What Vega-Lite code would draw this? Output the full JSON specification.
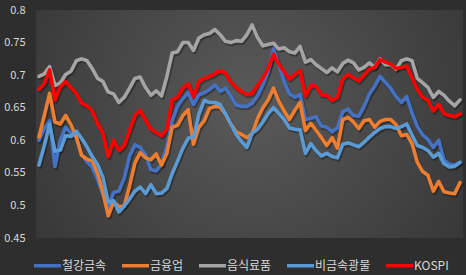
{
 "$schema": "https://vega.github.io/schema/vega-lite/v6.json",
 "width": 427, "height": 228,
 "autosize": "none",
 "padding": {"left": 36, "top": 10, "right": 3, "bottom": 37},
 "background": "#2e2e2e",
 "config": {
   "view": {"stroke": null, "fill": {"gradient": "radial", "x1": 0.5, "y1": 0.45, "r1": 0, "x2": 0.5, "y2": 0.45, "r2": 0.75, "stops": [{"offset": 0, "color": "#5a5a5a"}, {"offset": 1, "color": "#2e2e2e"}]}},
   "font": "Noto Sans CJK KR"
 },
 "datasets": {
  "d": [
{"s":"철강금속","i":0,"v":0.600},{"s":"철강금속","i":1,"v":0.618},{"s":"철강금속","i":2,"v":0.630},{"s":"철강금속","i":3,"v":0.560},{"s":"철강금속","i":4,"v":0.600},{"s":"철강금속","i":5,"v":0.620},{"s":"철강금속","i":6,"v":0.611},{"s":"철강금속","i":7,"v":0.605},{"s":"철강금속","i":8,"v":0.578},{"s":"철강금속","i":9,"v":0.567},
{"s":"철강금속","i":10,"v":0.558},{"s":"철강금속","i":11,"v":0.540},{"s":"철강금속","i":12,"v":0.517},{"s":"철강금속","i":13,"v":0.497},{"s":"철강금속","i":14,"v":0.520},{"s":"철강금속","i":15,"v":0.522},{"s":"철강금속","i":16,"v":0.542},{"s":"철강금속","i":17,"v":0.576},{"s":"철강금속","i":18,"v":0.593},{"s":"철강금속","i":19,"v":0.589},
{"s":"철강금속","i":20,"v":0.578},{"s":"철강금속","i":21,"v":0.555},{"s":"철강금속","i":22,"v":0.553},{"s":"철강금속","i":23,"v":0.563},{"s":"철강금속","i":24,"v":0.590},{"s":"철강금속","i":25,"v":0.630},{"s":"철강금속","i":26,"v":0.652},{"s":"철강금속","i":27,"v":0.664},{"s":"철강금속","i":28,"v":0.673},{"s":"철강금속","i":29,"v":0.655},
{"s":"철강금속","i":30,"v":0.670},{"s":"철강금속","i":31,"v":0.673},{"s":"철강금속","i":32,"v":0.678},{"s":"철강금속","i":33,"v":0.685},{"s":"철강금속","i":34,"v":0.675},{"s":"철강금속","i":35,"v":0.680},{"s":"철강금속","i":36,"v":0.668},{"s":"철강금속","i":37,"v":0.654},{"s":"철강금속","i":38,"v":0.652},{"s":"철강금속","i":39,"v":0.652},
{"s":"철강금속","i":40,"v":0.657},{"s":"철강금속","i":41,"v":0.668},{"s":"철강금속","i":42,"v":0.685},{"s":"철강금속","i":43,"v":0.705},{"s":"철강금속","i":44,"v":0.740},{"s":"철강금속","i":45,"v":0.716},{"s":"철강금속","i":46,"v":0.690},{"s":"철강금속","i":47,"v":0.671},{"s":"철강금속","i":48,"v":0.666},{"s":"철강금속","i":49,"v":0.670},
{"s":"철강금속","i":50,"v":0.632},{"s":"철강금속","i":51,"v":0.634},{"s":"철강금속","i":52,"v":0.636},{"s":"철강금속","i":53,"v":0.622},{"s":"철강금속","i":54,"v":0.620},{"s":"철강금속","i":55,"v":0.613},{"s":"철강금속","i":56,"v":0.619},{"s":"철강금속","i":57,"v":0.644},{"s":"철강금속","i":58,"v":0.648},{"s":"철강금속","i":59,"v":0.638},
{"s":"철강금속","i":60,"v":0.637},{"s":"철강금속","i":61,"v":0.652},{"s":"철강금속","i":62,"v":0.671},{"s":"철강금속","i":63,"v":0.683},{"s":"철강금속","i":64,"v":0.698},{"s":"철강금속","i":65,"v":0.689},{"s":"철강금속","i":66,"v":0.680},{"s":"철강금속","i":67,"v":0.667},{"s":"철강금속","i":68,"v":0.658},{"s":"철강금속","i":69,"v":0.667},
{"s":"철강금속","i":70,"v":0.642},{"s":"철강금속","i":71,"v":0.621},{"s":"철강금속","i":72,"v":0.608},{"s":"철강금속","i":73,"v":0.601},{"s":"철강금속","i":74,"v":0.589},{"s":"철강금속","i":75,"v":0.600},{"s":"철강금속","i":76,"v":0.570},{"s":"철강금속","i":77,"v":0.563},{"s":"철강금속","i":78,"v":0.562},{"s":"철강금속","i":79,"v":0.566},
{"s":"금융업","i":0,"v":0.605},{"s":"금융업","i":1,"v":0.638},{"s":"금융업","i":2,"v":0.672},{"s":"금융업","i":3,"v":0.628},{"s":"금융업","i":4,"v":0.625},{"s":"금융업","i":5,"v":0.638},{"s":"금융업","i":6,"v":0.624},{"s":"금융업","i":7,"v":0.605},{"s":"금융업","i":8,"v":0.577},{"s":"금융업","i":9,"v":0.571},
{"s":"금융업","i":10,"v":0.568},{"s":"금융업","i":11,"v":0.549},{"s":"금융업","i":12,"v":0.520},{"s":"금융업","i":13,"v":0.484},{"s":"금융업","i":14,"v":0.506},{"s":"금융업","i":15,"v":0.498},{"s":"금융업","i":16,"v":0.499},{"s":"금융업","i":17,"v":0.530},{"s":"금융업","i":18,"v":0.565},{"s":"금융업","i":19,"v":0.581},
{"s":"금융업","i":20,"v":0.573},{"s":"금융업","i":21,"v":0.570},{"s":"금융업","i":22,"v":0.579},{"s":"금융업","i":23,"v":0.562},{"s":"금융업","i":24,"v":0.580},{"s":"금융업","i":25,"v":0.620},{"s":"금융업","i":26,"v":0.623},{"s":"금융업","i":27,"v":0.638},{"s":"금융업","i":28,"v":0.647},{"s":"금융업","i":29,"v":0.594},
{"s":"금융업","i":30,"v":0.620},{"s":"금융업","i":31,"v":0.630},{"s":"금융업","i":32,"v":0.649},{"s":"금융업","i":33,"v":0.652},{"s":"금융업","i":34,"v":0.651},{"s":"금융업","i":35,"v":0.640},{"s":"금융업","i":36,"v":0.625},{"s":"금융업","i":37,"v":0.613},{"s":"금융업","i":38,"v":0.609},{"s":"금융업","i":39,"v":0.604},
{"s":"금융업","i":40,"v":0.610},{"s":"금융업","i":41,"v":0.633},{"s":"금융업","i":42,"v":0.650},{"s":"금융업","i":43,"v":0.662},{"s":"금융업","i":44,"v":0.680},{"s":"금융업","i":45,"v":0.660},{"s":"금융업","i":46,"v":0.645},{"s":"금융업","i":47,"v":0.632},{"s":"금융업","i":48,"v":0.646},{"s":"금융업","i":49,"v":0.658},
{"s":"금융업","i":50,"v":0.615},{"s":"금융업","i":51,"v":0.626},{"s":"금융업","i":52,"v":0.615},{"s":"금융업","i":53,"v":0.604},{"s":"금융업","i":54,"v":0.592},{"s":"금융업","i":55,"v":0.604},{"s":"금융업","i":56,"v":0.588},{"s":"금융업","i":57,"v":0.632},{"s":"금융업","i":58,"v":0.635},{"s":"금융업","i":59,"v":0.628},
{"s":"금융업","i":60,"v":0.618},{"s":"금융업","i":61,"v":0.630},{"s":"금융업","i":62,"v":0.632},{"s":"금융업","i":63,"v":0.620},{"s":"금융업","i":64,"v":0.629},{"s":"금융업","i":65,"v":0.632},{"s":"금융업","i":66,"v":0.632},{"s":"금융업","i":67,"v":0.624},{"s":"금융업","i":68,"v":0.607},{"s":"금융업","i":69,"v":0.609},
{"s":"금융업","i":70,"v":0.595},{"s":"금융업","i":71,"v":0.566},{"s":"금융업","i":72,"v":0.552},{"s":"금융업","i":73,"v":0.546},{"s":"금융업","i":74,"v":0.522},{"s":"금융업","i":75,"v":0.537},{"s":"금융업","i":76,"v":0.521},{"s":"금융업","i":77,"v":0.519},{"s":"금융업","i":78,"v":0.518},{"s":"금융업","i":79,"v":0.535},
{"s":"음식료품","i":0,"v":0.698},{"s":"음식료품","i":1,"v":0.702},{"s":"음식료품","i":2,"v":0.713},{"s":"음식료품","i":3,"v":0.684},{"s":"음식료품","i":4,"v":0.688},{"s":"음식료품","i":5,"v":0.701},{"s":"음식료품","i":6,"v":0.706},{"s":"음식료품","i":7,"v":0.722},{"s":"음식료품","i":8,"v":0.725},{"s":"음식료품","i":9,"v":0.722},
{"s":"음식료품","i":10,"v":0.710},{"s":"음식료품","i":11,"v":0.695},{"s":"음식료품","i":12,"v":0.690},{"s":"음식료품","i":13,"v":0.674},{"s":"음식료품","i":14,"v":0.671},{"s":"음식료품","i":15,"v":0.658},{"s":"음식료품","i":16,"v":0.666},{"s":"음식료품","i":17,"v":0.680},{"s":"음식료품","i":18,"v":0.695},{"s":"음식료품","i":19,"v":0.697},
{"s":"음식료품","i":20,"v":0.681},{"s":"음식료품","i":21,"v":0.669},{"s":"음식료품","i":22,"v":0.676},{"s":"음식료품","i":23,"v":0.668},{"s":"음식료품","i":24,"v":0.698},{"s":"음식료품","i":25,"v":0.734},{"s":"음식료품","i":26,"v":0.736},{"s":"음식료품","i":27,"v":0.750},{"s":"음식료품","i":28,"v":0.750},{"s":"음식료품","i":29,"v":0.738},
{"s":"음식료품","i":30,"v":0.757},{"s":"음식료품","i":31,"v":0.762},{"s":"음식료품","i":32,"v":0.764},{"s":"음식료품","i":33,"v":0.770},{"s":"음식료품","i":34,"v":0.762},{"s":"음식료품","i":35,"v":0.752},{"s":"음식료품","i":36,"v":0.750},{"s":"음식료품","i":37,"v":0.753},{"s":"음식료품","i":38,"v":0.752},{"s":"음식료품","i":39,"v":0.762},
{"s":"음식료품","i":40,"v":0.777},{"s":"음식료품","i":41,"v":0.758},{"s":"음식료품","i":42,"v":0.745},{"s":"음식료품","i":43,"v":0.747},{"s":"음식료품","i":44,"v":0.749},{"s":"음식료품","i":45,"v":0.740},{"s":"음식료품","i":46,"v":0.742},{"s":"음식료품","i":47,"v":0.736},{"s":"음식료품","i":48,"v":0.734},{"s":"음식료품","i":49,"v":0.744},
{"s":"음식료품","i":50,"v":0.720},{"s":"음식료품","i":51,"v":0.724},{"s":"음식료품","i":52,"v":0.716},{"s":"음식료품","i":53,"v":0.710},{"s":"음식료품","i":54,"v":0.704},{"s":"음식료품","i":55,"v":0.711},{"s":"음식료품","i":56,"v":0.705},{"s":"음식료품","i":57,"v":0.718},{"s":"음식료품","i":58,"v":0.723},{"s":"음식료품","i":59,"v":0.719},
{"s":"음식료품","i":60,"v":0.708},{"s":"음식료품","i":61,"v":0.712},{"s":"음식료품","i":62,"v":0.719},{"s":"음식료품","i":63,"v":0.712},{"s":"음식료품","i":64,"v":0.725},{"s":"음식료품","i":65,"v":0.716},{"s":"음식료품","i":66,"v":0.716},{"s":"음식료품","i":67,"v":0.709},{"s":"음식료품","i":68,"v":0.722},{"s":"음식료품","i":69,"v":0.725},
{"s":"음식료품","i":70,"v":0.722},{"s":"음식료품","i":71,"v":0.695},{"s":"음식료품","i":72,"v":0.688},{"s":"음식료품","i":73,"v":0.681},{"s":"음식료품","i":74,"v":0.666},{"s":"음식료품","i":75,"v":0.675},{"s":"음식료품","i":76,"v":0.669},{"s":"음식료품","i":77,"v":0.660},{"s":"음식료품","i":78,"v":0.653},{"s":"음식료품","i":79,"v":0.662},
{"s":"비금속광물","i":0,"v":0.562},{"s":"비금속광물","i":1,"v":0.592},{"s":"비금속광물","i":2,"v":0.625},{"s":"비금속광물","i":3,"v":0.583},{"s":"비금속광물","i":4,"v":0.585},{"s":"비금속광물","i":5,"v":0.607},{"s":"비금속광물","i":6,"v":0.606},{"s":"비금속광물","i":7,"v":0.614},{"s":"비금속광물","i":8,"v":0.603},{"s":"비금속광물","i":9,"v":0.590},
{"s":"비금속광물","i":10,"v":0.575},{"s":"비금속광물","i":11,"v":0.563},{"s":"비금속광물","i":12,"v":0.543},{"s":"비금속광물","i":13,"v":0.505},{"s":"비금속광물","i":14,"v":0.507},{"s":"비금속광물","i":15,"v":0.490},{"s":"비금속광물","i":16,"v":0.499},{"s":"비금속광물","i":17,"v":0.510},{"s":"비금속광물","i":18,"v":0.522},{"s":"비금속광물","i":19,"v":0.528},
{"s":"비금속광물","i":20,"v":0.518},{"s":"비금속광물","i":21,"v":0.532},{"s":"비금속광물","i":22,"v":0.518},{"s":"비금속광물","i":23,"v":0.519},{"s":"비금속광물","i":24,"v":0.526},{"s":"비금속광물","i":25,"v":0.549},{"s":"비금속광물","i":26,"v":0.568},{"s":"비금속광물","i":27,"v":0.588},{"s":"비금속광물","i":28,"v":0.603},{"s":"비금속광물","i":29,"v":0.605},
{"s":"비금속광물","i":30,"v":0.640},{"s":"비금속광물","i":31,"v":0.661},{"s":"비금속광물","i":32,"v":0.658},{"s":"비금속광물","i":33,"v":0.658},{"s":"비금속광물","i":34,"v":0.655},{"s":"비금속광물","i":35,"v":0.641},{"s":"비금속광물","i":36,"v":0.625},{"s":"비금속광물","i":37,"v":0.609},{"s":"비금속광물","i":38,"v":0.598},{"s":"비금속광물","i":39,"v":0.589},
{"s":"비금속광물","i":40,"v":0.611},{"s":"비금속광물","i":41,"v":0.617},{"s":"비금속광물","i":42,"v":0.628},{"s":"비금속광물","i":43,"v":0.641},{"s":"비금속광물","i":44,"v":0.650},{"s":"비금속광물","i":45,"v":0.641},{"s":"비금속광물","i":46,"v":0.632},{"s":"비금속광물","i":47,"v":0.619},{"s":"비금속광물","i":48,"v":0.617},{"s":"비금속광물","i":49,"v":0.616},
{"s":"비금속광물","i":50,"v":0.580},{"s":"비금속광물","i":51,"v":0.595},{"s":"비금속광물","i":52,"v":0.584},{"s":"비금속광물","i":53,"v":0.576},{"s":"비금속광물","i":54,"v":0.580},{"s":"비금속광물","i":55,"v":0.575},{"s":"비금속광물","i":56,"v":0.573},{"s":"비금속광물","i":57,"v":0.594},{"s":"비금속광물","i":58,"v":0.596},{"s":"비금속광물","i":59,"v":0.593},
{"s":"비금속광물","i":60,"v":0.590},{"s":"비금속광물","i":61,"v":0.597},{"s":"비금속광물","i":62,"v":0.605},{"s":"비금속광물","i":63,"v":0.612},{"s":"비금속광물","i":64,"v":0.618},{"s":"비금속광물","i":65,"v":0.621},{"s":"비금속광물","i":66,"v":0.621},{"s":"비금속광물","i":67,"v":0.618},{"s":"비금속광물","i":68,"v":0.621},{"s":"비금속광물","i":69,"v":0.625},
{"s":"비금속광물","i":70,"v":0.608},{"s":"비금속광물","i":71,"v":0.592},{"s":"비금속광물","i":72,"v":0.589},{"s":"비금속광물","i":73,"v":0.584},{"s":"비금속광물","i":74,"v":0.574},{"s":"비금속광물","i":75,"v":0.580},{"s":"비금속광물","i":76,"v":0.564},{"s":"비금속광물","i":77,"v":0.559},{"s":"비금속광물","i":78,"v":0.560},{"s":"비금속광물","i":79,"v":0.566},
{"s":"KOSPI","i":0,"v":0.678},{"s":"KOSPI","i":1,"v":0.687},{"s":"KOSPI","i":2,"v":0.708},{"s":"KOSPI","i":3,"v":0.662},{"s":"KOSPI","i":4,"v":0.682},{"s":"KOSPI","i":5,"v":0.690},{"s":"KOSPI","i":6,"v":0.681},{"s":"KOSPI","i":7,"v":0.672},{"s":"KOSPI","i":8,"v":0.657},{"s":"KOSPI","i":9,"v":0.653},
{"s":"KOSPI","i":10,"v":0.645},{"s":"KOSPI","i":11,"v":0.626},{"s":"KOSPI","i":12,"v":0.611},{"s":"KOSPI","i":13,"v":0.575},{"s":"KOSPI","i":14,"v":0.600},{"s":"KOSPI","i":15,"v":0.584},{"s":"KOSPI","i":16,"v":0.592},{"s":"KOSPI","i":17,"v":0.615},{"s":"KOSPI","i":18,"v":0.638},{"s":"KOSPI","i":19,"v":0.646},
{"s":"KOSPI","i":20,"v":0.631},{"s":"KOSPI","i":21,"v":0.617},{"s":"KOSPI","i":22,"v":0.612},{"s":"KOSPI","i":23,"v":0.607},{"s":"KOSPI","i":24,"v":0.617},{"s":"KOSPI","i":25,"v":0.662},{"s":"KOSPI","i":26,"v":0.666},{"s":"KOSPI","i":27,"v":0.680},{"s":"KOSPI","i":28,"v":0.687},{"s":"KOSPI","i":29,"v":0.667},
{"s":"KOSPI","i":30,"v":0.690},{"s":"KOSPI","i":31,"v":0.695},{"s":"KOSPI","i":32,"v":0.698},{"s":"KOSPI","i":33,"v":0.702},{"s":"KOSPI","i":34,"v":0.707},{"s":"KOSPI","i":35,"v":0.703},{"s":"KOSPI","i":36,"v":0.690},{"s":"KOSPI","i":37,"v":0.681},{"s":"KOSPI","i":38,"v":0.675},{"s":"KOSPI","i":39,"v":0.670},
{"s":"KOSPI","i":40,"v":0.672},{"s":"KOSPI","i":41,"v":0.684},{"s":"KOSPI","i":42,"v":0.695},{"s":"KOSPI","i":43,"v":0.710},{"s":"KOSPI","i":44,"v":0.732},{"s":"KOSPI","i":45,"v":0.717},{"s":"KOSPI","i":46,"v":0.705},{"s":"KOSPI","i":47,"v":0.694},{"s":"KOSPI","i":48,"v":0.701},{"s":"KOSPI","i":49,"v":0.707},
{"s":"KOSPI","i":50,"v":0.668},{"s":"KOSPI","i":51,"v":0.684},{"s":"KOSPI","i":52,"v":0.683},{"s":"KOSPI","i":53,"v":0.670},{"s":"KOSPI","i":54,"v":0.669},{"s":"KOSPI","i":55,"v":0.661},{"s":"KOSPI","i":56,"v":0.666},{"s":"KOSPI","i":57,"v":0.694},{"s":"KOSPI","i":58,"v":0.701},{"s":"KOSPI","i":59,"v":0.696},
{"s":"KOSPI","i":60,"v":0.691},{"s":"KOSPI","i":61,"v":0.700},{"s":"KOSPI","i":62,"v":0.709},{"s":"KOSPI","i":63,"v":0.712},{"s":"KOSPI","i":64,"v":0.724},{"s":"KOSPI","i":65,"v":0.720},{"s":"KOSPI","i":66,"v":0.717},{"s":"KOSPI","i":67,"v":0.710},{"s":"KOSPI","i":68,"v":0.712},{"s":"KOSPI","i":69,"v":0.714},
{"s":"KOSPI","i":70,"v":0.696},{"s":"KOSPI","i":71,"v":0.678},{"s":"KOSPI","i":72,"v":0.666},{"s":"KOSPI","i":73,"v":0.661},{"s":"KOSPI","i":74,"v":0.645},{"s":"KOSPI","i":75,"v":0.655},{"s":"KOSPI","i":76,"v":0.641},{"s":"KOSPI","i":77,"v":0.638},{"s":"KOSPI","i":78,"v":0.636},{"s":"KOSPI","i":79,"v":0.640}
  ]
 },
 "data": {"name": "d"},
 "encoding": {
   "x": {"field": "i", "type": "quantitative", "scale": {"domain": [-0.56, 79.56], "nice": false, "zero": false}, "axis": null},
   "y": {"field": "v", "type": "quantitative", "scale": {"domain": [0.45, 0.8], "nice": false, "zero": false},
         "axis": {"values": [0.45, 0.5, 0.55, 0.6, 0.65, 0.7, 0.75, 0.8], "format": ".2~f", "grid": false, "domain": false, "ticks": false, "labelPadding": 11, "labelColor": "#d9d9d9", "labelFontSize": 11, "title": null}}
 },
 "layer": [
  {
   "mark": {"type": "line", "strokeWidth": 4, "strokeJoin": "round", "strokeCap": "round", "color": "#000000", "opacity": 0.3, "xOffset": 1.2, "yOffset": 1.8},
   "encoding": {"detail": {"field": "s", "type": "nominal"}}
  },
  {
   "mark": {"type": "line", "strokeWidth": 3.6, "strokeJoin": "round", "strokeCap": "round"},
   "encoding": {
     "color": {"field": "s", "type": "nominal",
       "scale": {"domain": ["철강금속", "금융업", "음식료품", "비금속광물", "KOSPI"], "range": ["#4472C4", "#ED7D31", "#A5A5A5", "#5B9BD5", "#FF0000"]},
       "legend": {"orient": "none", "legendX": -4, "legendY": 240, "direction": "horizontal", "columns": 5, "gridAlign": "each", "title": null, "symbolType": "stroke", "symbolStrokeWidth": 3.5, "symbolSize": 729, "labelOffset": -1, "columnPadding": 8, "labelFontSize": 12, "labelColor": "#d9d9d9"}}
   }
  }
 ]
}
